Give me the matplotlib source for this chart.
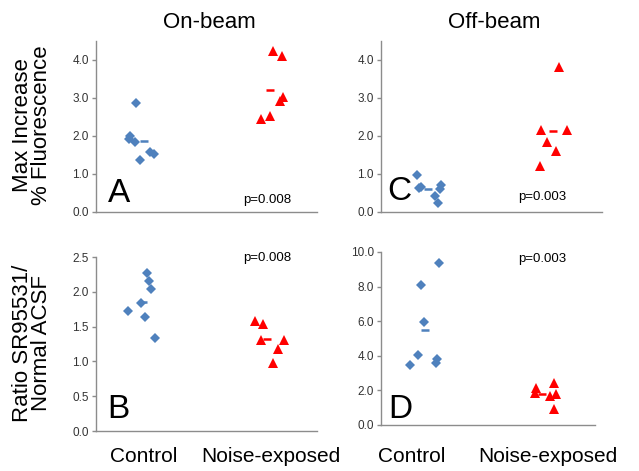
"""
Scatter panels of fluorescence increase and SR95531 ratio,
control vs noise-exposed, on-beam and off-beam
"""
import numpy as np
import matplotlib
matplotlib.use("Agg")
import matplotlib.pyplot as plt

plt.rcParams['font.family'] = ['Liberation Sans', 'DejaVu Sans']

BLUE = '#4F81BD'
RED = '#FF0000'
AXC = '#8C8C8C'
W, H = 639, 471

groups = ["Control", "Noise-exposed"]

# panel A: on-beam max increase
a_ctrl_x = [0.972, 0.925, 0.919, 0.964, 1.000, 1.077, 1.102]
a_ctrl_y = [2.86, 2.00, 1.93, 1.84, 1.38, 1.57, 1.52]
a_noise_x = [2.000, 2.067, 2.077, 2.057, 1.982, 1.914]
a_noise_y = [4.24, 4.11, 3.02, 2.92, 2.52, 2.44]
a_mean_x = [1.028, 1.977]

# panel C: off-beam max increase
c_ctrl_x = [0.939, 0.955, 0.972, 1.072, 1.094, 1.109, 1.122]
c_ctrl_y = [0.98, 0.63, 0.67, 0.42, 0.24, 0.61, 0.72]
c_noise_x = [2.007, 1.874, 2.072, 1.919, 1.984, 1.869]
c_noise_y = [3.81, 2.15, 2.17, 1.84, 1.60, 1.22]
c_mean_x = [1.019, 1.967]

# panel B: on-beam ratio
b_ctrl_x = [1.052, 1.064, 1.079, 1.007, 0.909, 1.034, 1.109]
b_ctrl_y = [2.275, 2.155, 2.04, 1.84, 1.73, 1.64, 1.34]
b_noise_x = [1.864, 1.927, 1.914, 2.082, 2.040, 2.000]
b_noise_y = [1.58, 1.54, 1.31, 1.31, 1.18, 0.98]
b_mean_x = [1.022, 1.957]

# panel D: off-beam ratio
d_ctrl_x = [1.119, 0.977, 1.000, 0.955, 0.890, 1.102, 1.094]
d_ctrl_y = [9.36, 8.09, 5.95, 4.02, 3.49, 3.82, 3.57]
d_noise_x = [2.012, 1.875, 1.869, 2.032, 1.982, 2.014]
d_noise_y = [2.41, 2.12, 1.83, 1.80, 1.68, 0.91]
d_mean_x = [1.009, 1.924]

fig = plt.figure(figsize=(6.39, 4.71), dpi=100)


def px(x, y):
    return x / W, 1 - y / H


def panel(rect, cx, cy, nx, ny, mx, ymax, yticks):
    ax = fig.add_axes(rect)
    ax.plot(cx, cy, 'D', color=BLUE, ms=5, mew=0, clip_on=False)
    ax.plot(nx, ny, '^', color=RED, ms=7, mew=0, clip_on=False)
    ax.plot(mx[0], np.mean(cy), '_', color=BLUE, ms=5.5, mew=1.8)
    ax.plot(mx[1], np.mean(ny), '_', color=RED, ms=5.5, mew=1.8)
    ax.set_xlim(0.667, 2.333)
    ax.set_ylim(0, ymax)
    ax.set_yticks(yticks)
    ax.set_yticklabels(['%.1f' % t for t in yticks], fontsize=8.5, color='#333333')
    ax.set_xticks([])
    for s in ['top', 'right']:
        ax.spines[s].set_visible(False)
    for s in ['left', 'bottom']:
        ax.spines[s].set_color(AXC)
        ax.spines[s].set_linewidth(1.0)
    ax.tick_params(axis='y', color=AXC, length=3, width=1, pad=2)
    return ax


panel([0.1502, 0.5499, 0.3459, 0.3631], a_ctrl_x, a_ctrl_y, a_noise_x,
      a_noise_y, a_mean_x, 4.5, [0, 1, 2, 3, 4])
panel([0.5962, 0.5499, 0.3459, 0.3631], c_ctrl_x, c_ctrl_y, c_noise_x,
      c_noise_y, c_mean_x, 4.5, [0, 1, 2, 3, 4])
panel([0.1502, 0.0849, 0.3459, 0.3694], b_ctrl_x, b_ctrl_y, b_noise_x,
      b_noise_y, b_mean_x, 2.5, [0, 0.5, 1, 1.5, 2, 2.5])
panel([0.5962, 0.0977, 0.3349, 0.3673], d_ctrl_x, d_ctrl_y, d_noise_x,
      d_noise_y, d_mean_x, 10, [0, 2, 4, 6, 8, 10])

# panel letters and p-values
for (x, y), let in zip([(108, 202), (387, 200), (107, 418), (388, 418)], "ACBD"):
    fig.text(*px(x, y), let, fontsize=24, ha='left', va='baseline')
for (x, y), ptxt in zip([(267, 200), (542, 197), (267, 258), (542, 259)],
                        ['p=0.008', 'p=0.003', 'p=0.008', 'p=0.003']):
    fig.text(*px(x, y), ptxt, fontsize=9.5, ha='center', va='center')

fig.text(*px(209, 22), "On-beam", fontsize=16, ha='center', va='center')
fig.text(*px(494, 22), "Off-beam", fontsize=16, ha='center', va='center')
fig.text(*px(32, 125), "Max Increase\n% Fluorescence", fontsize=16,
         rotation=90, ha='center', va='center', linespacing=0.92)
fig.text(*px(32, 343), "Ratio SR95531/\nNormal ACSF", fontsize=16,
         rotation=90, ha='center', va='center', linespacing=0.92)
for cx, lab in zip([144, 271, 412, 548], groups * 2):
    fig.text(*px(cx, 457), lab, fontsize=15, ha='center', va='center')

fig.savefig("out.png", dpi=100)
